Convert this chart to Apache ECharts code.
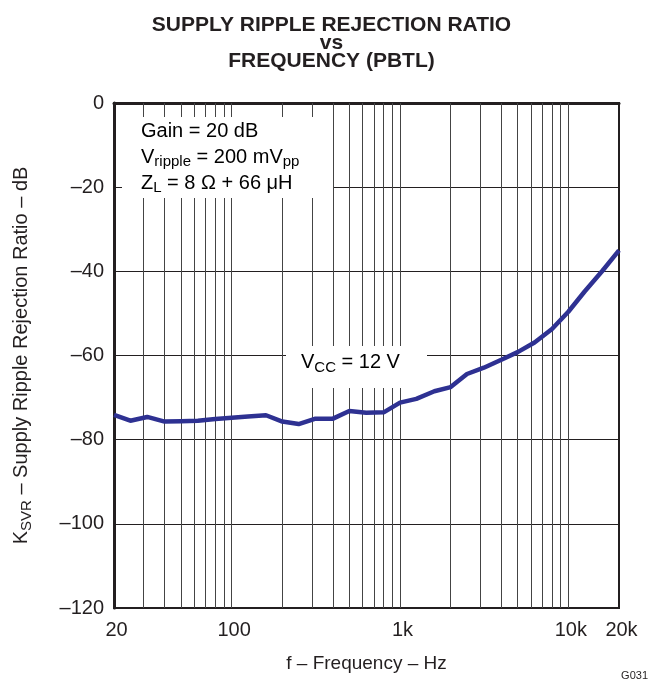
<!DOCTYPE html>
<html>
<head>
<meta charset="utf-8">
<script src="https://cdn.jsdelivr.net/npm/echarts@6/dist/echarts.min.js"></script>
<style>
  html, body { margin: 0; padding: 0; background: #fff; }
  #chart { width: 663px; height: 686px; }
</style>
</head>
<body>
<div id="chart"></div>
<script>
// Supply ripple rejection (PBTL), one curve at VCC = 12 V
const freqs = [20, 25, 31.5, 40, 50, 63, 80, 100, 125, 160, 200, 250, 315, 400, 500, 630, 800,
  1000, 1250, 1600, 2000, 2500, 3150, 4000, 5000, 6300, 8000, 10000, 12500, 16000, 20000];
const ksvr = [-74.1, -75.5, -74.6, -75.7, -75.6, -75.5, -75.1, -74.8, -74.5, -74.2, -75.7, -76.3, -75.0, -75.0, -73.2, -73.6, -73.5,
  -71.2, -70.3, -68.5, -67.5, -64.4, -62.9, -61.0, -59.2, -56.9, -53.7, -49.6, -44.8, -39.8, -35.0];

// vertical grid at 1..9 x each decade
const gridFreqs = [30, 40, 50, 60, 70, 80, 90, 100, 200, 300, 400, 500, 600, 700, 800, 900,
  1000, 2000, 3000, 4000, 5000, 6000, 7000, 8000, 9000, 10000];

const FONT = '"Liberation Sans", Arial, Helvetica, sans-serif';
const INK = '#231f20';
const FS = 20;

const chart = echarts.init(document.getElementById('chart'), null, { renderer: 'canvas' });

const points = freqs.map((f, i) => [f, ksvr[i]]);

chart.setOption({
  animation: false,
  backgroundColor: '#fff',
  title: {
    text: 'SUPPLY RIPPLE REJECTION RATIO\nvs\nFREQUENCY (PBTL)',
    left: 'center',
    top: 11,
    textStyle: { fontFamily: FONT, fontWeight: 'bold', fontSize: 21, lineHeight: 18, color: INK }
  },
  grid: {
    left: 114, right: 44, top: 103, bottom: 78,
    show: true, borderColor: INK, borderWidth: 2, backgroundColor: 'transparent'
  },
  xAxis: {
    type: 'log',
    logBase: 10,
    min: 20,
    max: 20000,
    name: 'f – Frequency – Hz',
    nameLocation: 'middle',
    nameGap: 46,
    nameTextStyle: { fontFamily: FONT, fontSize: 19, color: INK },
    axisLine: { show: true, lineStyle: { color: INK, width: 3 } },
    axisTick: { show: false },
    splitLine: { show: false },
    axisLabel: {
      fontFamily: FONT, fontSize: FS, color: INK, margin: 12,
      padding: [0, 0, 0, 5],
      showMinLabel: true, showMaxLabel: true,
      formatter: v => (v >= 1000 ? (v / 1000) + 'k' : String(v))
    }
  },
  yAxis: {
    type: 'value',
    min: -120,
    max: 0,
    interval: 20,
    name: '{k|K}{s|SVR}{k| – Supply Ripple Rejection Ratio – dB}',
    nameLocation: 'middle',
    nameGap: 80,
    nameRotate: 90,
    nameTextStyle: {
      rich: {
        k: { fontFamily: FONT, fontSize: FS, color: INK },
        s: { fontFamily: FONT, fontSize: 15, color: INK, padding: [10, 0, 0, 0] }
      }
    },
    axisLine: { show: true, lineStyle: { color: INK, width: 3 } },
    axisTick: { show: false },
    splitLine: { show: true, lineStyle: { color: INK, width: 1 } },
    axisLabel: {
      fontFamily: FONT, fontSize: FS, color: INK, margin: 10,
      formatter: v => (v < 0 ? '\u2013' + Math.abs(v) : String(v))
    }
  },
  series: [
    {
      type: 'line',
      data: [],
      silent: true,
      z: 1,
      markLine: {
        silent: true,
        symbol: ['none', 'none'],
        label: { show: false },
        animation: false,
        lineStyle: { color: '#444', width: 1, type: 'solid' },
        data: gridFreqs.map(f => ({ xAxis: f }))
      }
    },
    {
      type: 'line',
      data: points,
      z: 5,
      symbol: 'none',
      smooth: false,
      lineStyle: { color: '#2e3192', width: 4.5 }
    }
  ],
  graphic: [
    {
      type: 'rect', z: 50,
      shape: { x: 122, y: 117, width: 211, height: 81 },
      style: { fill: '#fff' }
    },
    {
      type: 'text', z: 51, left: 141, top: 121,
      style: {
        text: '{t|Gain = 20 dB}\n{t|V}{s|ripple}{t| = 200 mV}{s|pp}\n{t|Z}{s|L}{t| = 8 Ω + 66 μH}',
        rich: {
          t: { fontFamily: FONT, fontSize: FS, color: INK, lineHeight: 26 },
          s: { fontFamily: FONT, fontSize: 15, color: INK, lineHeight: 26, padding: [10, 0, 0, 0] }
        }
      }
    },
    {
      type: 'rect', z: 50,
      shape: { x: 286, y: 346, width: 141, height: 42 },
      style: { fill: '#fff' }
    },
    {
      type: 'text', z: 51, left: 301, top: 350,
      style: {
        text: '{t|V}{s|CC}{t| = 12 V}',
        rich: {
          t: { fontFamily: FONT, fontSize: FS, color: INK, lineHeight: 24 },
          s: { fontFamily: FONT, fontSize: 15, color: INK, lineHeight: 24, padding: [10, 0, 0, 0] }
        }
      }
    },
    {
      type: 'text', z: 51, right: 15, top: 670,
      style: { text: 'G031', fontFamily: FONT, fontSize: 11, fill: INK }
    }
  ]
});
</script>
</body>
</html>
